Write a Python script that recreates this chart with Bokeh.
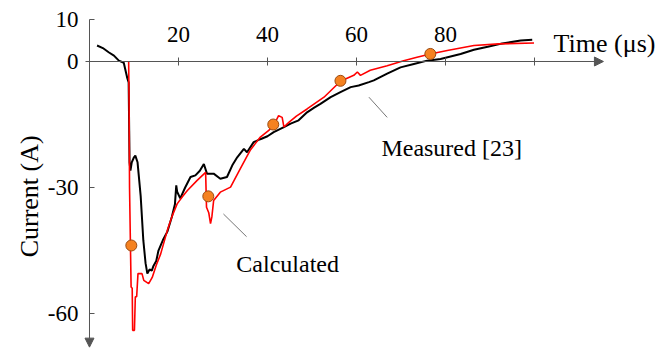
from bokeh.plotting import figure
from bokeh.models import Range1d, FixedTicker, Arrow, NormalHead, Label
from bokeh.embed import file_html
from bokeh.resources import INLINE

# ---- data ----
measured_t = [1.7, 3.0, 4.3, 5.5, 6.6, 7.7, 8.5, 8.8, 9.0, 9.2, 9.5, 10.0, 10.3, 10.8, 11.5, 12.1,
              12.6, 13.0, 13.5, 14.0, 14.4, 15.0, 15.5, 16.5, 17.5, 18.5, 19.2, 19.5, 19.7, 20.4,
              21.5, 22.7, 23.8, 24.8, 25.7, 26.4, 27.9, 29.4, 30.9, 32.2, 33.2, 34.7, 35.4, 36.9,
              38.4, 40.0, 41.4, 43.7, 45.2, 47.0, 48.9, 50.5, 51.9, 54.2, 56.4, 58.7, 60.5, 62.8,
              63.9, 66.9, 69.9, 72.9, 75.9, 78.9, 83.4, 86.4, 89.5, 92.4, 96.9, 99.5]
measured_i = [3.8, 3.2, 2.2, 1.4, 0.2, -0.3, -4.0, -5.0, -24.0, -26.0, -24.0, -22.8, -22.4, -24.0, -32.0, -42.6,
              -48.0, -50.5, -49.5, -49.8, -48.6, -47.5, -45.0, -42.5, -40.5, -37.0, -34.0, -29.5, -31.0, -32.6,
              -30.0, -27.5, -27.1, -26.0, -24.4, -26.7, -26.7, -27.9, -27.5, -24.5, -22.8, -20.8, -21.6, -19.2,
              -18.5, -17.8, -16.8, -15.6, -14.8, -14.0, -12.1, -11.0, -10.1, -8.5, -7.3, -6.1, -5.7, -4.9,
              -4.5, -2.9, -1.4, -0.6, 0.2, 0.6, 1.8, 2.8, 3.5, 4.2, 5.0, 5.2]

calc_t = [8.8, 8.9, 9.0, 9.35, 9.6, 9.7, 10.1, 10.3, 10.6, 10.9, 11.8, 12.2, 13.3, 14.1, 15.0, 16.0,
          17.5, 18.5, 19.7, 21.0, 22.0, 24.2, 26.1, 26.3, 26.8, 27.2, 27.5, 27.9, 29.4, 31.7, 33.9,
          36.2, 38.4, 40.3, 41.5, 42.5, 43.3, 43.7, 44.8, 46.5, 48.9, 52.7, 56.4, 59.4, 60.2, 60.9,
          63.1, 66.9, 70.6, 73.6, 76.6, 80.4, 86.4, 92.0, 99.9]
calc_i = [0.0, -10.0, -30.0, -53.7, -54.0, -64.0, -64.0, -56.0, -56.0, -50.5, -50.5, -52.1, -52.9, -51.4, -48.5, -45.8,
          -40.2, -37.0, -33.9, -32.0, -30.7, -28.3, -26.4, -34.7, -36.0, -38.6, -37.0, -33.1, -31.1, -29.9, -25.5,
          -21.0, -18.0, -16.4, -15.0, -12.9, -13.3, -15.6, -14.5, -13.0, -11.3, -8.5, -4.7, -3.3, -2.5, -3.3,
          -2.1, -1.0, 0.2, 1.0, 1.8, 2.6, 3.8, 4.2, 4.4]

marker_t = [9.4, 26.7, 41.3, 56.4, 76.6]
marker_i = [-43.8, -32.1, -15.0, -4.6, 1.8]

x_ticks = [20, 40, 60, 80, 100]
x_tick_labels = ["20", "40", "60", "80", ""]
y_ticks = [10, 0, -30, -60]
y_tick_labels = ["10", "0", "-30", "-60"]

x_label = "Time (μs)"
y_label = "Current (A)"
ann_texts = ["Calculated", "Measured [23]"]
ann_text_x = [33.0, 65.6]
ann_text_y = [-48.1, -20.5]
lead_x0 = [30.1, 62.8]
lead_y0 = [-36.3, -8.5]
lead_x1 = [35.3, 66.9]
lead_y1 = [-41.7, -13.3]

FONT = "Liberation Serif"
AX = "#555555"

p = figure(width=667, height=350, output_backend="svg", toolbar_location=None,
           x_range=Range1d(-20.0, 129.9), y_range=Range1d(-68.8, 14.52),
           x_axis_location="above", min_border=0)
p.outline_line_color = None
p.grid.visible = False
p.background_fill_color = "white"

# axes crossing at the origin
p.xaxis.fixed_location = 0
p.yaxis.fixed_location = 0
p.xaxis.bounds = (-0.9, 114)
p.yaxis.bounds = (-66, 10)
p.xaxis.ticker = FixedTicker(ticks=x_ticks)
p.yaxis.ticker = FixedTicker(ticks=y_ticks)
p.xaxis.major_label_overrides = dict(zip(x_ticks, x_tick_labels))
p.yaxis.major_label_overrides = dict(zip(y_ticks, y_tick_labels))
for ax in (p.xaxis, p.yaxis):
    ax.axis_line_color = AX
    ax.major_tick_line_color = AX
    ax.minor_tick_line_color = None
    ax.major_label_text_font = FONT
    ax.major_label_text_font_size = "23px"
    ax.major_label_text_color = "black"
p.xaxis.major_tick_in = 4
p.xaxis.major_tick_out = 4
p.xaxis.major_label_standoff = 15
p.yaxis.major_tick_in = 5
p.yaxis.major_tick_out = 0
p.yaxis.major_label_standoff = 11

# arrow heads
p.add_layout(Arrow(end=NormalHead(size=9, fill_color=AX, line_color=AX),
                   x_start=100, y_start=0, x_end=115.5, y_end=0, line_color=AX))
p.add_layout(Arrow(end=NormalHead(size=9, fill_color=AX, line_color=AX),
                   x_start=0, y_start=-60, x_end=0, y_end=-68.0, line_color=AX))

# curves
p.line(measured_t, measured_i, line_color="black", line_width=2)
p.line(calc_t, calc_i, line_color="#ff0000", line_width=1.6)
p.scatter(marker_t, marker_i, size=11, fill_color="#f58220", line_color="#9a4a10", line_width=1)

# leader lines and annotation texts
p.segment(lead_x0, lead_y0, lead_x1, lead_y1, line_color="#777777", line_width=1)
for t, x, y in zip(ann_texts, ann_text_x, ann_text_y):
    p.add_layout(Label(x=x, y=y, text=t, text_font=FONT, text_font_size="24px",
                       text_color="black", text_baseline="alphabetic"))

p.add_layout(Label(x=104.3, y=4.3, text=x_label, text_font=FONT, text_font_size="26px",
                   text_color="black", text_baseline="alphabetic"))
p.add_layout(Label(x=-13.5, y=-32.1, text=y_label, text_font=FONT, text_font_size="26px",
                   text_color="black", angle=1.5708, text_align="center", text_baseline="middle"))

open("out.html", "w").write(file_html(p, INLINE))
